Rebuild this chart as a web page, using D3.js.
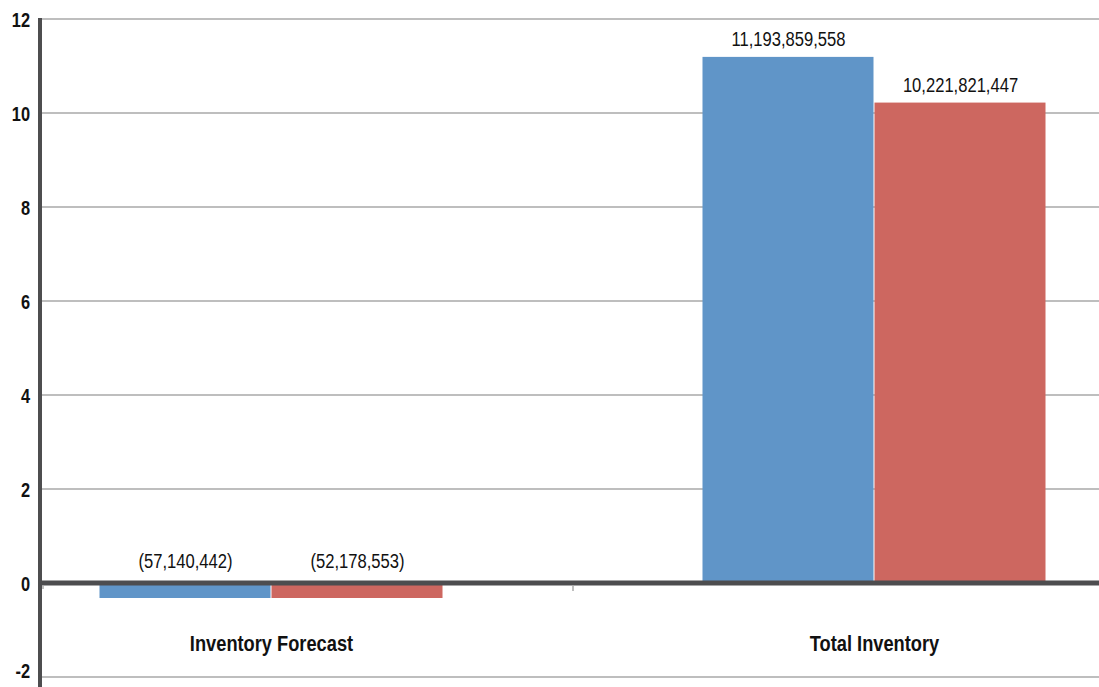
<!DOCTYPE html>
<html><head><meta charset="utf-8">
<script src="https://cdn.jsdelivr.net/npm/d3@7/dist/d3.min.js"></script>
<style>
html,body{margin:0;padding:0;background:#fff;}
svg{display:block;}
text{font-family:"Liberation Sans",Arial,sans-serif;}
</style></head>
<body><svg id="c" width="1099" height="687"></svg>
<script>
const categories = ["Inventory Forecast", "Total Inventory"];
const seriesNames = ["Series A", "Series B"];
const seriesA = [-57140442, 11193859558];
const seriesB = [-52178553, 10221821447];
const yTicks = [-2, 0, 2, 4, 6, 8, 10, 12];
const colors = ["#6095c8", "#cd6760"];

const W = 1099, H = 687;
const svg = d3.select("#c");
const y = d3.scaleLinear().domain([-2, 12]).range([677, 19]);
const x0 = d3.scaleBand().domain(categories).range([-30, 1176]).paddingInner(0.4295).paddingOuter(0.21475);
const x1 = d3.scaleBand().domain(seriesNames).range([0, x0.bandwidth()]).padding(0);

const data = categories.map((c, i) => ({cat: c, vals: [seriesA[i], seriesB[i]]}));
const minDepth = 15; // minimum visible depth for tiny negative bars

function label(sel, x, yy, txt, size, weight, anchor, sx) {
  sel.append("text")
    .attr("transform", `translate(${x},${yy}) scale(${sx},1)`)
    .attr("text-anchor", anchor).attr("font-size", size).attr("font-weight", weight)
    .attr("fill", "#111").text(txt);
}

// gridlines
svg.append("g").selectAll("line").data(yTicks.filter(t => t !== 0)).join("line")
  .attr("x1", 42).attr("x2", W).attr("y1", d => y(d)).attr("y2", d => y(d))
  .attr("stroke", "#a8a8a8").attr("stroke-width", 1.5);

// bars
const g = svg.append("g");
data.forEach(d => {
  d.vals.forEach((v, j) => {
    const vb = v / 1e9;
    const xPos = x0(d.cat) + x1(seriesNames[j]);
    let top, h;
    if (vb >= 0) { top = y(vb); h = y(0) - y(vb); }
    else { top = y(0); h = Math.max(y(vb) - y(0), minDepth); }
    g.append("rect").attr("x", xPos).attr("y", top).attr("width", x1.bandwidth() - 1).attr("height", h)
      .attr("fill", colors[j]);
    const lbl = v < 0 ? "(" + d3.format(",")(-v) + ")" : d3.format(",")(v);
    label(g, xPos + x1.bandwidth() / 2, vb >= 0 ? y(vb) - 11 : y(0) - 15, lbl, 21, "normal", "middle", 0.79);
  });
});

// zero line
svg.append("line").attr("x1", 40).attr("x2", W).attr("y1", y(0)).attr("y2", y(0))
  .attr("stroke", "#4d4d4f").attr("stroke-width", 5);
// category tick marks
svg.append("line").attr("x1", x0.range()[0] + x0.step()).attr("x2", x0.range()[0] + x0.step())
  .attr("y1", y(0) + 2).attr("y2", y(0) + 8).attr("stroke", "#aaa").attr("stroke-width", 1.5);
svg.append("line").attr("x1", 43).attr("x2", 43).attr("y1", y(0) + 2).attr("y2", y(0) + 6)
  .attr("stroke", "#aaa").attr("stroke-width", 1.5);

// y axis line
svg.append("line").attr("x1", 40).attr("x2", 40).attr("y1", 18).attr("y2", H)
  .attr("stroke", "#4d4d4f").attr("stroke-width", 4);

// y tick labels (kept inside the picture)
const ty = svg.append("g");
yTicks.forEach(t => label(ty, 30, Math.min(y(t) + 7.5, H - 9), t, 21, "bold", "end", 0.78));

// category labels
const tc = svg.append("g");
categories.forEach(c => label(tc, x0(c) + x0.bandwidth() / 2, 651, c, 22, "bold", "middle", 0.83));
</script></body></html>
